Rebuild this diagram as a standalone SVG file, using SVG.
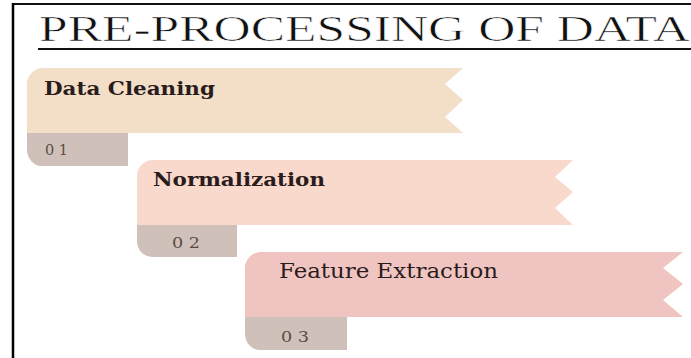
<svg xmlns="http://www.w3.org/2000/svg" width="691" height="358" viewBox="0 0 691 358">
  <style>
    .title { font-family: "Liberation Serif", "Times New Roman", serif; font-size: 35px; fill: #111; stroke: #ffffff; stroke-width: 0.6px; }
    .lbl { font-family: "DejaVu Serif", "Liberation Serif", serif; fill: #2a1c1c; }
    .num { font-family: "DejaVu Serif", "Liberation Serif", serif; font-size: 14px; fill: #5b4b46; }
    .tab { fill: #cfc1b9; }
  </style>
  <rect width="691" height="358" fill="#ffffff"/>
  <!-- frame -->
  <line x1="12" y1="4" x2="691" y2="4" stroke="#111" stroke-width="2"/>
  <line x1="13" y1="3" x2="13" y2="358" stroke="#000" stroke-width="2.5"/>
  <!-- title -->
  <g id="title">
    <text class="title" x="39" y="41" textLength="651" lengthAdjust="spacingAndGlyphs">PRE-PROCESSING OF DATA</text>
    <line x1="38" y1="49" x2="691" y2="49" stroke="#111" stroke-width="2"/>
  </g>
  <!-- step 1 -->
  <g id="step1">
    <path class="tab" d="M128,133 L128,166 L42,166 A15,16.5 0 0 1 27,149.5 L27,133 Z"/>
    <path fill="#f3dfc8" d="M43,68 L463,68 L445,84 L463,100 L445,117 L463,133 L27,133 L27,84 A16,16 0 0 1 43,68 Z"/>
    <text class="lbl" x="44" y="95" font-size="19" font-weight="bold" textLength="171" lengthAdjust="spacingAndGlyphs">Data Cleaning</text>
    <text class="num" x="45" y="155" textLength="23" lengthAdjust="spacingAndGlyphs">0 1</text>
  </g>
  <!-- step 2 -->
  <g id="step2">
    <path class="tab" d="M237,225 L237,257 L152,257 A15,16 0 0 1 137,241 L137,225 Z"/>
    <path fill="#f9d9cb" d="M153,160 L573,160 L555,177 L573,192 L555,208 L573,225 L137,225 L137,176 A16,16 0 0 1 153,160 Z"/>
    <text class="lbl" x="153" y="186" font-size="19" font-weight="bold" textLength="172" lengthAdjust="spacingAndGlyphs">Normalization</text>
    <text class="num" x="172" y="248" textLength="28" lengthAdjust="spacingAndGlyphs">0 2</text>
  </g>
  <!-- step 3 -->
  <g id="step3">
    <path class="tab" d="M347,317 L347,350 L260,350 A15,16.5 0 0 1 245,333.5 L245,317 Z"/>
    <path fill="#f0c4c0" d="M261,252 L683,252 L663,268 L683,284 L663,300 L683,317 L245,317 L245,268 A16,16 0 0 1 261,252 Z"/>
    <text class="lbl" x="279" y="278" font-size="20" textLength="219" lengthAdjust="spacingAndGlyphs">Feature Extraction</text>
    <text class="num" x="281" y="342" textLength="28" lengthAdjust="spacingAndGlyphs">0 3</text>
  </g>
</svg>
